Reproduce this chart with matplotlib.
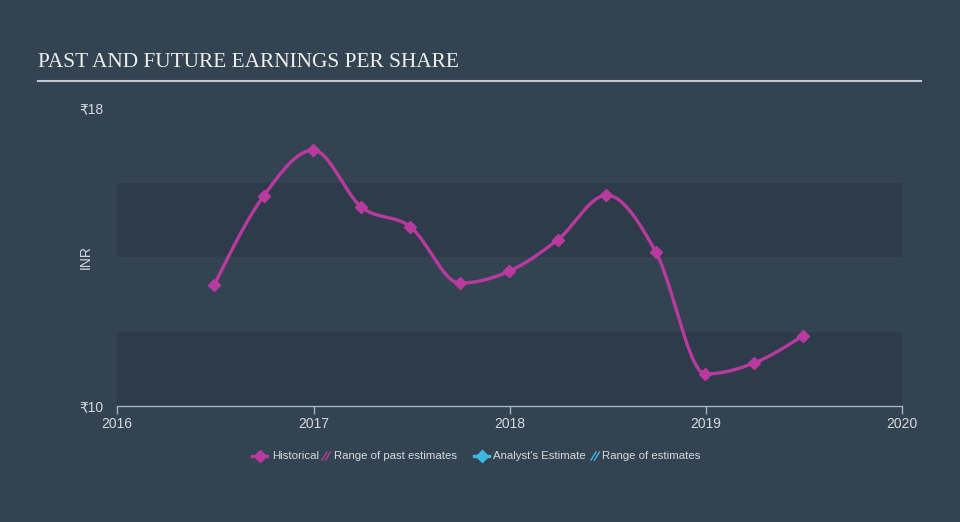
"""Past and future earnings per share chart."""

import matplotlib

matplotlib.use("Agg")
import matplotlib.dates as mdates
import matplotlib.pyplot as plt
import numpy as np
from datetime import date
from matplotlib.lines import Line2D

# EPS history (INR)
eps_dates = [
    "2016-06-30", "2016-09-30", "2016-12-31", "2017-03-31", "2017-06-30",
    "2017-09-30", "2017-12-31", "2018-03-31", "2018-06-30", "2018-09-30",
    "2018-12-31", "2019-03-31", "2019-06-30",
]
eps_values = [13.25, 15.64, 16.87, 15.34, 14.81, 13.30, 13.62, 14.46, 15.66, 14.13, 10.86, 11.15, 11.88]

year_ticks = [2016, 2017, 2018, 2019, 2020]
y_ticks = [10, 18]
y_tick_labels = ["₹10", "₹18"]
legend_labels = ["Historical", "Range of past estimates", "Analyst's Estimate", "Range of estimates"]

BG = "#344352"
BAND = "#2e3b4a"
HIST = "#b83a9e"
EST = "#3fb8e0"
TXT = "#d5d9de"

plt.rcParams["font.family"] = ["Liberation Sans", "DejaVu Sans"]


def monotone_x(x, y, n=30):
    """Monotone cubic interpolation (like d3.curveMonotoneX) for drawing."""
    x = np.asarray(x, float)
    y = np.asarray(y, float)
    h = np.diff(x)
    s = np.diff(y) / h
    m = np.zeros_like(y)
    for i in range(1, len(y) - 1):
        if s[i - 1] * s[i] <= 0:
            m[i] = 0
        else:
            p = (s[i - 1] * h[i] + s[i] * h[i - 1]) / (h[i - 1] + h[i])
            m[i] = np.sign(s[i - 1]) * min(abs(s[i - 1]), abs(s[i]), 0.5 * abs(p)) * 2
    m[0] = (3 * s[0] - m[1]) / 2
    m[-1] = (3 * s[-1] - m[-2]) / 2
    xs, ys = [], []
    for i in range(len(h)):
        t = np.linspace(0, 1, n)
        h00 = 2 * t**3 - 3 * t**2 + 1
        h10 = t**3 - 2 * t**2 + t
        h01 = -2 * t**3 + 3 * t**2
        h11 = t**3 - t**2
        xs.append(x[i] + t * h[i])
        ys.append(h00 * y[i] + h10 * h[i] * m[i] + h01 * y[i + 1] + h11 * h[i] * m[i + 1])
    return np.concatenate(xs), np.concatenate(ys)


x_num = mdates.date2num([date.fromisoformat(d) for d in eps_dates])
xs, ys = monotone_x(x_num, eps_values)

fig = plt.figure(figsize=(9.6, 5.22), dpi=100, facecolor=BG)
ax = fig.add_axes([117 / 960, 116 / 522, 785 / 960, 298 / 522])
ax.set_facecolor(BG)

# alternating bands
ax.axhspan(10, 12, color=BAND, zorder=0, lw=0)
ax.axhspan(14, 16, color=BAND, zorder=0, lw=0)

ax.plot(xs, ys, color=HIST, lw=2.4, zorder=3, solid_capstyle="round")
ax.plot(x_num, eps_values, ls="none", marker="D", ms=6, color=HIST, zorder=4)

ax.set_xlim(mdates.date2num(date(2016, 1, 1)), mdates.date2num(date(2020, 1, 1)))
ax.set_ylim(10, 18)
ax.set_xticks([mdates.date2num(date(y, 1, 1)) for y in year_ticks])
ax.set_xticklabels([str(y) for y in year_ticks])
ax.set_yticks(y_ticks)
ax.set_yticklabels(y_tick_labels)

for side in ["top", "right", "left"]:
    ax.spines[side].set_visible(False)
ax.spines["bottom"].set_color("#a9b4bf")
ax.spines["bottom"].set_linewidth(1)
ax.tick_params(axis="x", colors="#a9b4bf", length=6, width=1, labelcolor=TXT, labelsize=10, pad=2)
ax.tick_params(axis="y", length=0, labelcolor=TXT, labelsize=10, pad=10)
ax.set_ylabel("INR", color=TXT, fontsize=10)
ax.yaxis.set_label_coords(-0.031, 0.5)

# title and rule
fig.text(38 / 960, 1 - 67 / 522, "PAST AND FUTURE EARNINGS PER SHARE", family="Liberation Serif",
         fontsize=15.3, color="#f0f0f0", va="baseline")
fig.add_artist(Line2D([38 / 960, 921 / 960], [1 - 81 / 522] * 2, color="#c3c8ce", lw=1.5))

# legend drawn by hand
W, H = 960, 522
ly = 456
for x0, col in [(252, HIST), (474, EST)]:
    fig.add_artist(Line2D([x0 / W, (x0 + 15) / W], [1 - ly / H] * 2, color=col, lw=2.4))
    fig.add_artist(Line2D([(x0 + 7.5) / W], [1 - ly / H], marker="D", ms=6, color=col, ls="none"))
for x0, col in [(322, HIST), (591, EST)]:
    for dx in (0, 3.5):
        fig.add_artist(Line2D([(x0 + dx) / W, (x0 + dx + 5) / W], [1 - (ly + 4) / H, 1 - (ly - 4) / H],
                              color=col, lw=1))
for x0, lab in zip([272, 334, 493, 602], legend_labels):
    fig.text(x0 / W, 1 - ly / H, lab, color=TXT, fontsize=8.2, va="center")

fig.savefig("out.png", dpi=100, facecolor=BG)
